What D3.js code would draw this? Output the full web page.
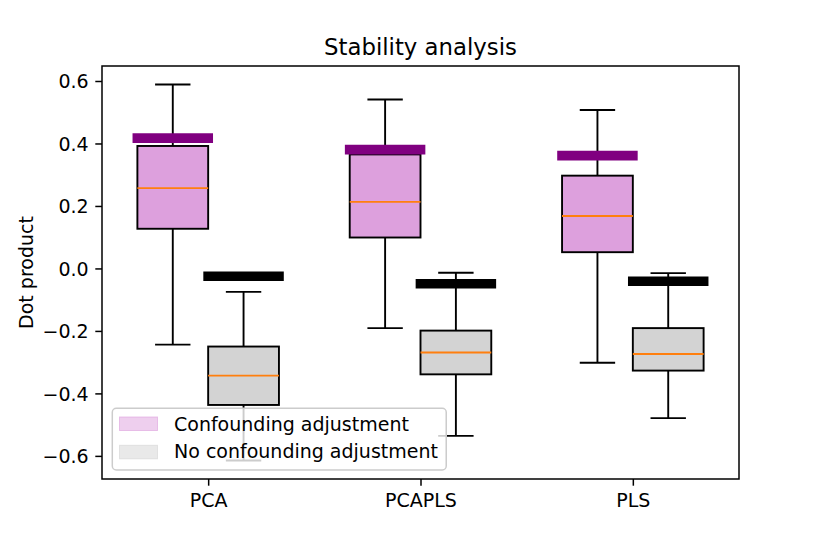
<!DOCTYPE html>
<html>
<head>
<meta charset="utf-8">
<script src="https://cdn.jsdelivr.net/npm/d3@7"></script>
<style>
  body { margin: 0; background: #fff; }
  text { font-family: "DejaVu Sans", sans-serif; fill: #000; }
</style>
</head>
<body>
<div id="chart"></div>
<script>
// values
var categories = ["PCA", "PCAPLS", "PLS"];

var confLow  = [-0.244, -0.191, -0.302];
var confQ1   = [0.127, 0.099, 0.052];
var confMed  = [0.257, 0.213, 0.168];
var confQ3   = [0.392, 0.365, 0.297];
var confHigh = [0.589, 0.541, 0.507];
var confRef  = [0.417, 0.380, 0.361];

var noLow  = [-0.615, -0.536, -0.479];
var noQ1   = [-0.437, -0.339, -0.327];
var noMed  = [-0.343, -0.269, -0.274];
var noQ3   = [-0.250, -0.199, -0.191];
var noHigh = [-0.075, -0.014, -0.015];
var noRef  = [-0.025, -0.049, -0.041];

var yTicks = [-0.6, -0.4, -0.2, 0.0, 0.2, 0.4, 0.6];
var legendLabels = ["Confounding adjustment", "No confounding adjustment"];

var svgWidth = 822;
var svgHeight = 548;

var margin = { top: 66, right: 83, bottom: 69, left: 102 };
var width = svgWidth - margin.left - margin.right;
var height = svgHeight - margin.top - margin.bottom;

var svg = d3.select("#chart")
  .append("svg")
  .attr("width", svgWidth)
  .attr("height", svgHeight);

var chartGroup = svg.append("g")
  .attr("transform", `translate(${margin.left}, ${margin.top})`);

var xScale = d3.scaleLinear().domain([0.5, 3.5]).range([0, width]);
var yScale = d3.scaleLinear().domain([-0.674, 0.648]).range([height, 0]);

var boxW = 1 / 3;
var lw = 1.9;

function series(low, q1, med, q3, high, ref, offset, fill, refColor) {
  return categories.map(function(c, i) {
    return { pos: i + 1 + offset, low: low[i], q1: q1[i], med: med[i], q3: q3[i],
             high: high[i], ref: ref[i], fill: fill, refColor: refColor };
  });
}

var groups = [
  series(confLow, confQ1, confMed, confQ3, confHigh, confRef, -1 / 6, "#dda0dd", "#800080"),
  series(noLow, noQ1, noMed, noQ3, noHigh, noRef, 1 / 6, "#d3d3d3", "#000000")
];

groups.forEach(function(data) {
  var g = chartGroup.append("g");

  // whiskers
  g.selectAll(".whiskerLow").data(data).enter().append("line")
    .attr("x1", d => xScale(d.pos)).attr("x2", d => xScale(d.pos))
    .attr("y1", d => yScale(d.q1)).attr("y2", d => yScale(d.low))
    .attr("stroke", "#000").attr("stroke-width", lw);
  g.selectAll(".whiskerHigh").data(data).enter().append("line")
    .attr("x1", d => xScale(d.pos)).attr("x2", d => xScale(d.pos))
    .attr("y1", d => yScale(d.q3)).attr("y2", d => yScale(d.high))
    .attr("stroke", "#000").attr("stroke-width", lw);

  // caps
  ["low", "high"].forEach(function(k) {
    g.selectAll(".cap-" + k).data(data).enter().append("line")
      .attr("x1", d => xScale(d.pos - boxW / 4)).attr("x2", d => xScale(d.pos + boxW / 4))
      .attr("y1", d => yScale(d[k])).attr("y2", d => yScale(d[k]))
      .attr("stroke", "#000").attr("stroke-width", lw);
  });

  // boxes
  g.selectAll("rect").data(data).enter().append("rect")
    .attr("x", d => xScale(d.pos - boxW / 2))
    .attr("width", d => xScale(d.pos + boxW / 2) - xScale(d.pos - boxW / 2))
    .attr("y", d => yScale(d.q3))
    .attr("height", d => yScale(d.q1) - yScale(d.q3))
    .attr("fill", d => d.fill)
    .attr("stroke", "#000").attr("stroke-width", lw);

  // medians
  g.selectAll(".median").data(data).enter().append("line")
    .attr("x1", d => xScale(d.pos - boxW / 2)).attr("x2", d => xScale(d.pos + boxW / 2))
    .attr("y1", d => yScale(d.med)).attr("y2", d => yScale(d.med))
    .attr("stroke", "#ff7f0e").attr("stroke-width", lw);
});

// thick reference bars on top
groups.forEach(function(data) {
  chartGroup.append("g").selectAll("line").data(data).enter().append("line")
    .attr("x1", d => xScale(d.pos - boxW / 2)).attr("x2", d => xScale(d.pos + boxW / 2))
    .attr("y1", d => yScale(d.ref)).attr("y2", d => yScale(d.ref))
    .attr("stroke", d => d.refColor).attr("stroke-width", 9.7)
    .attr("stroke-linecap", "square");
});

// axes
var tickLen = 6.7;
var leftAxis = d3.axisLeft(yScale).tickValues(yTicks).tickFormat(d3.format(".1f"))
  .tickSizeInner(tickLen).tickSizeOuter(0).tickPadding(6.7);
var bottomAxis = d3.axisBottom(xScale).tickValues([1, 2, 3])
  .tickFormat((d, i) => categories[i]).tickSizeInner(tickLen).tickSizeOuter(0).tickPadding(6.7);

var yAxis = chartGroup.append("g").call(leftAxis);
var xAxis = chartGroup.append("g").attr("transform", `translate(0, ${height})`).call(bottomAxis);

[yAxis, xAxis].forEach(function(ax) {
  ax.select(".domain").remove();
  ax.selectAll(".tick line").attr("stroke", "#000").attr("stroke-width", 1.5);
  ax.selectAll(".tick text").attr("font-size", "19px").attr("font-family", "DejaVu Sans").attr("fill", "#000");
});
yAxis.selectAll(".tick text").attr("dy", "0.36em");
xAxis.selectAll(".tick text").attr("dy", "0.76em");

// frame
chartGroup.append("rect")
  .attr("width", width).attr("height", height)
  .attr("fill", "none").attr("stroke", "#000").attr("stroke-width", 1.5);

// title and label
svg.append("text")
  .attr("x", margin.left + width / 2).attr("y", 54.5)
  .attr("text-anchor", "middle").attr("font-size", "22.8px")
  .text("Stability analysis");

svg.append("text")
  .attr("transform", `translate(33, ${margin.top + height / 2}) rotate(-90)`)
  .attr("text-anchor", "middle").attr("font-size", "19px")
  .text("Dot product");

// legend
var legendColors = ["#dda0dd", "#d3d3d3"];
var lx = 112.3, ly = 408.3;
var legend = svg.append("g");
var frame = legend.append("rect")
  .attr("x", lx).attr("y", ly).attr("height", 61.7)
  .attr("rx", 4).attr("ry", 4)
  .attr("fill", "#fff").attr("fill-opacity", 0.8)
  .attr("stroke", "#cccccc").attr("stroke-width", 1.5);

var maxLen = 0;
legendLabels.forEach(function(label, i) {
  legend.append("rect")
    .attr("x", 119.5).attr("y", 417 + i * 28.3)
    .attr("width", 38).attr("height", 13.5)
    .attr("fill", legendColors[i]).attr("fill-opacity", 0.5)
    .attr("stroke", legendColors[i]).attr("stroke-opacity", 0.6).attr("stroke-width", 1);
  var t = legend.append("text")
    .attr("x", 174).attr("y", 430.5 + i * 27.5)
    .attr("font-size", "19px")
    .text(label);
  maxLen = Math.max(maxLen, t.node().getComputedTextLength());
});
frame.attr("width", 174 + maxLen + 8.3 - lx);
</script>
</body>
</html>
